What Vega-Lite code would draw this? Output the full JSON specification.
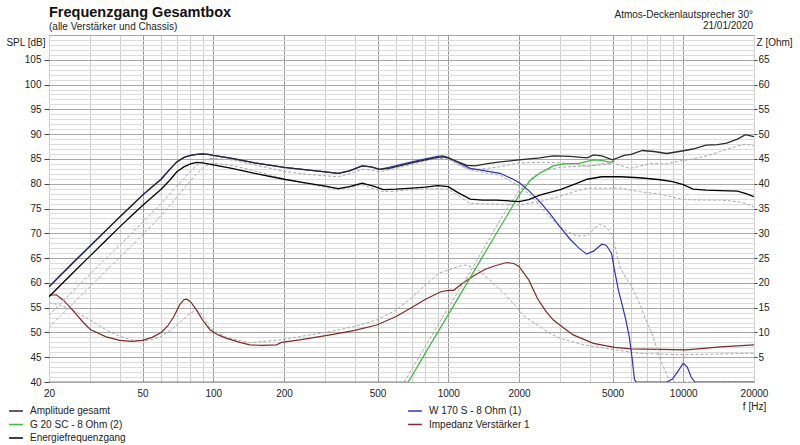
{
  "$schema": "https://vega.github.io/schema/vega-lite/v6.json",
  "width": 705,
  "height": 347,
  "autosize": {"type": "none"},
  "padding": {"left": 49, "top": 35, "right": 46, "bottom": 63},
  "background": "white",
  "config": {
    "font": "Liberation Sans",
    "view": {"stroke": "#707070", "strokeWidth": 1},
    "axis": {"labelFont": "Liberation Sans", "labelFontSize": 10, "labelColor": "#222222", "titleFont": "Liberation Sans", "titleFontSize": 10, "titleFontWeight": "normal", "titleColor": "#222222", "domain": false},
    "legend": {"labelFont": "Liberation Sans", "labelFontSize": 10, "labelColor": "#222222", "symbolType": "stroke", "symbolSize": 190, "symbolStrokeWidth": 1.5, "rowPadding": 0.5, "labelOffset": 6, "padding": 0}
  },
  "title": {"text": "Frequenzgang Gesamtbox", "subtitle": "(alle Verstärker und Chassis)", "anchor": "start", "frame": "group", "font": "Liberation Sans", "fontSize": 14.5, "fontWeight": "bold", "color": "#111111", "subtitleFont": "Liberation Sans", "subtitleFontSize": 10, "subtitleColor": "#222222", "offset": -23, "subtitlePadding": 2},
  "datasets": {
    "spl": [
      {"s":"Energiefrequenzgang","f":20,"v":57.2},{"s":"Energiefrequenzgang","f":25,"v":61.8},{"s":"Energiefrequenzgang","f":30,"v":65.5},{"s":"Energiefrequenzgang","f":35,"v":68.6},{"s":"Energiefrequenzgang","f":40,"v":71.3},{"s":"Energiefrequenzgang","f":45,"v":73.6},{"s":"Energiefrequenzgang","f":50,"v":75.6},{"s":"Energiefrequenzgang","f":55,"v":77.3},{"s":"Energiefrequenzgang","f":60,"v":78.9},{"s":"Energiefrequenzgang","f":65,"v":80.6},{"s":"Energiefrequenzgang","f":70,"v":82.4},{"s":"Energiefrequenzgang","f":75,"v":83.4},{"s":"Energiefrequenzgang","f":80,"v":84},{"s":"Energiefrequenzgang","f":85,"v":84.3},{"s":"Energiefrequenzgang","f":90,"v":84.2},{"s":"Energiefrequenzgang","f":100,"v":83.8},{"s":"Energiefrequenzgang","f":120,"v":83.1},{"s":"Energiefrequenzgang","f":150,"v":82.1},{"s":"Energiefrequenzgang","f":200,"v":80.9},{"s":"Energiefrequenzgang","f":250,"v":80.1},{"s":"Energiefrequenzgang","f":300,"v":79.5},{"s":"Energiefrequenzgang","f":340,"v":79},{"s":"Energiefrequenzgang","f":380,"v":79.4},{"s":"Energiefrequenzgang","f":430,"v":80.1},{"s":"Energiefrequenzgang","f":480,"v":79.5},{"s":"Energiefrequenzgang","f":530,"v":78.8},{"s":"Energiefrequenzgang","f":600,"v":78.9},{"s":"Energiefrequenzgang","f":700,"v":79.1},{"s":"Energiefrequenzgang","f":800,"v":79.3},{"s":"Energiefrequenzgang","f":900,"v":79.6},{"s":"Energiefrequenzgang","f":1000,"v":79.4},{"s":"Energiefrequenzgang","f":1100,"v":78.2},{"s":"Energiefrequenzgang","f":1240,"v":76.9},{"s":"Energiefrequenzgang","f":1400,"v":76.7},{"s":"Energiefrequenzgang","f":1600,"v":76.7},{"s":"Energiefrequenzgang","f":2000,"v":76.4},{"s":"Energiefrequenzgang","f":2200,"v":76.8},{"s":"Energiefrequenzgang","f":2450,"v":77.7},{"s":"Energiefrequenzgang","f":3000,"v":78.8},{"s":"Energiefrequenzgang","f":3500,"v":80},{"s":"Energiefrequenzgang","f":3900,"v":80.9},{"s":"Energiefrequenzgang","f":4500,"v":81.4},{"s":"Energiefrequenzgang","f":5400,"v":81.4},{"s":"Energiefrequenzgang","f":6500,"v":81.2},{"s":"Energiefrequenzgang","f":8000,"v":80.8},{"s":"Energiefrequenzgang","f":9000,"v":80.4},{"s":"Energiefrequenzgang","f":10000,"v":79.8},{"s":"Energiefrequenzgang","f":11000,"v":78.9},{"s":"Energiefrequenzgang","f":12500,"v":78.7},{"s":"Energiefrequenzgang","f":14400,"v":78.6},{"s":"Energiefrequenzgang","f":17000,"v":78.5},{"s":"Energiefrequenzgang","f":18500,"v":78},{"s":"Energiefrequenzgang","f":20000,"v":77.4},
      {"s":"Amplitude gesamt","f":20,"v":59.2},{"s":"Amplitude gesamt","f":25,"v":63.8},{"s":"Amplitude gesamt","f":30,"v":67.5},{"s":"Amplitude gesamt","f":35,"v":70.6},{"s":"Amplitude gesamt","f":40,"v":73.3},{"s":"Amplitude gesamt","f":45,"v":75.6},{"s":"Amplitude gesamt","f":50,"v":77.7},{"s":"Amplitude gesamt","f":55,"v":79.4},{"s":"Amplitude gesamt","f":60,"v":80.9},{"s":"Amplitude gesamt","f":65,"v":82.8},{"s":"Amplitude gesamt","f":70,"v":84.4},{"s":"Amplitude gesamt","f":75,"v":85.3},{"s":"Amplitude gesamt","f":80,"v":85.7},{"s":"Amplitude gesamt","f":85,"v":85.9},{"s":"Amplitude gesamt","f":90,"v":86},{"s":"Amplitude gesamt","f":95,"v":85.9},{"s":"Amplitude gesamt","f":100,"v":85.7},{"s":"Amplitude gesamt","f":120,"v":85.1},{"s":"Amplitude gesamt","f":150,"v":84.2},{"s":"Amplitude gesamt","f":200,"v":83.3},{"s":"Amplitude gesamt","f":250,"v":82.8},{"s":"Amplitude gesamt","f":300,"v":82.4},{"s":"Amplitude gesamt","f":340,"v":82.1},{"s":"Amplitude gesamt","f":380,"v":82.6},{"s":"Amplitude gesamt","f":430,"v":83.6},{"s":"Amplitude gesamt","f":470,"v":83.4},{"s":"Amplitude gesamt","f":510,"v":82.9},{"s":"Amplitude gesamt","f":560,"v":83.1},{"s":"Amplitude gesamt","f":620,"v":83.6},{"s":"Amplitude gesamt","f":700,"v":84.2},{"s":"Amplitude gesamt","f":800,"v":84.8},{"s":"Amplitude gesamt","f":900,"v":85.3},{"s":"Amplitude gesamt","f":950,"v":85.4},{"s":"Amplitude gesamt","f":1000,"v":85.2},{"s":"Amplitude gesamt","f":1100,"v":84.4},{"s":"Amplitude gesamt","f":1200,"v":83.7},{"s":"Amplitude gesamt","f":1300,"v":83.6},{"s":"Amplitude gesamt","f":1450,"v":84},{"s":"Amplitude gesamt","f":1600,"v":84.3},{"s":"Amplitude gesamt","f":2000,"v":84.8},{"s":"Amplitude gesamt","f":2450,"v":85.2},{"s":"Amplitude gesamt","f":2800,"v":85.6},{"s":"Amplitude gesamt","f":3300,"v":85.5},{"s":"Amplitude gesamt","f":3900,"v":85.2},{"s":"Amplitude gesamt","f":4150,"v":85.8},{"s":"Amplitude gesamt","f":4500,"v":85.6},{"s":"Amplitude gesamt","f":5000,"v":84.8},{"s":"Amplitude gesamt","f":5600,"v":85.7},{"s":"Amplitude gesamt","f":6000,"v":85.9},{"s":"Amplitude gesamt","f":6700,"v":86.7},{"s":"Amplitude gesamt","f":7500,"v":86.5},{"s":"Amplitude gesamt","f":8500,"v":86.1},{"s":"Amplitude gesamt","f":9600,"v":86.5},{"s":"Amplitude gesamt","f":11000,"v":87},{"s":"Amplitude gesamt","f":12500,"v":87.8},{"s":"Amplitude gesamt","f":14000,"v":87.9},{"s":"Amplitude gesamt","f":15300,"v":88.2},{"s":"Amplitude gesamt","f":17000,"v":89},{"s":"Amplitude gesamt","f":18400,"v":89.9},{"s":"Amplitude gesamt","f":20000,"v":89.5},
      {"s":"W 170 S - 8 Ohm (1)","f":20,"v":59.2},{"s":"W 170 S - 8 Ohm (1)","f":25,"v":63.8},{"s":"W 170 S - 8 Ohm (1)","f":30,"v":67.5},{"s":"W 170 S - 8 Ohm (1)","f":35,"v":70.6},{"s":"W 170 S - 8 Ohm (1)","f":40,"v":73.3},{"s":"W 170 S - 8 Ohm (1)","f":45,"v":75.6},{"s":"W 170 S - 8 Ohm (1)","f":50,"v":77.7},{"s":"W 170 S - 8 Ohm (1)","f":55,"v":79.4},{"s":"W 170 S - 8 Ohm (1)","f":60,"v":80.9},{"s":"W 170 S - 8 Ohm (1)","f":65,"v":82.8},{"s":"W 170 S - 8 Ohm (1)","f":70,"v":84.4},{"s":"W 170 S - 8 Ohm (1)","f":75,"v":85.3},{"s":"W 170 S - 8 Ohm (1)","f":80,"v":85.7},{"s":"W 170 S - 8 Ohm (1)","f":85,"v":85.9},{"s":"W 170 S - 8 Ohm (1)","f":90,"v":86},{"s":"W 170 S - 8 Ohm (1)","f":95,"v":85.9},{"s":"W 170 S - 8 Ohm (1)","f":100,"v":85.7},{"s":"W 170 S - 8 Ohm (1)","f":120,"v":85.1},{"s":"W 170 S - 8 Ohm (1)","f":150,"v":84.2},{"s":"W 170 S - 8 Ohm (1)","f":200,"v":83.3},{"s":"W 170 S - 8 Ohm (1)","f":250,"v":82.8},{"s":"W 170 S - 8 Ohm (1)","f":300,"v":82.4},{"s":"W 170 S - 8 Ohm (1)","f":340,"v":82.1},{"s":"W 170 S - 8 Ohm (1)","f":380,"v":82.6},{"s":"W 170 S - 8 Ohm (1)","f":430,"v":83.6},{"s":"W 170 S - 8 Ohm (1)","f":470,"v":83.4},{"s":"W 170 S - 8 Ohm (1)","f":510,"v":82.9},{"s":"W 170 S - 8 Ohm (1)","f":560,"v":83.3},{"s":"W 170 S - 8 Ohm (1)","f":620,"v":83.8},{"s":"W 170 S - 8 Ohm (1)","f":700,"v":84.4},{"s":"W 170 S - 8 Ohm (1)","f":800,"v":85},{"s":"W 170 S - 8 Ohm (1)","f":900,"v":85.5},{"s":"W 170 S - 8 Ohm (1)","f":950,"v":85.6},{"s":"W 170 S - 8 Ohm (1)","f":1000,"v":85.3},{"s":"W 170 S - 8 Ohm (1)","f":1100,"v":84.3},{"s":"W 170 S - 8 Ohm (1)","f":1240,"v":83.1},{"s":"W 170 S - 8 Ohm (1)","f":1400,"v":82.7},{"s":"W 170 S - 8 Ohm (1)","f":1660,"v":82.1},{"s":"W 170 S - 8 Ohm (1)","f":1890,"v":80.9},{"s":"W 170 S - 8 Ohm (1)","f":2020,"v":80.1},{"s":"W 170 S - 8 Ohm (1)","f":2200,"v":78.6},{"s":"W 170 S - 8 Ohm (1)","f":2450,"v":76.4},{"s":"W 170 S - 8 Ohm (1)","f":2700,"v":74},{"s":"W 170 S - 8 Ohm (1)","f":3000,"v":71.2},{"s":"W 170 S - 8 Ohm (1)","f":3300,"v":68.8},{"s":"W 170 S - 8 Ohm (1)","f":3600,"v":67},{"s":"W 170 S - 8 Ohm (1)","f":3880,"v":65.8},{"s":"W 170 S - 8 Ohm (1)","f":4150,"v":66.4},{"s":"W 170 S - 8 Ohm (1)","f":4500,"v":67.8},{"s":"W 170 S - 8 Ohm (1)","f":4700,"v":67.6},{"s":"W 170 S - 8 Ohm (1)","f":4950,"v":66},{"s":"W 170 S - 8 Ohm (1)","f":5100,"v":62.5},{"s":"W 170 S - 8 Ohm (1)","f":5300,"v":58.5},{"s":"W 170 S - 8 Ohm (1)","f":5500,"v":55.5},{"s":"W 170 S - 8 Ohm (1)","f":5700,"v":52.5},{"s":"W 170 S - 8 Ohm (1)","f":5900,"v":49},{"s":"W 170 S - 8 Ohm (1)","f":6050,"v":45},{"s":"W 170 S - 8 Ohm (1)","f":6200,"v":40.5},{"s":"W 170 S - 8 Ohm (1)","f":6300,"v":40},{"s":"W 170 S - 8 Ohm (1)","f":8500,"v":40},{"s":"W 170 S - 8 Ohm (1)","f":9000,"v":40.6},{"s":"W 170 S - 8 Ohm (1)","f":9500,"v":42.2},{"s":"W 170 S - 8 Ohm (1)","f":10000,"v":43.8},{"s":"W 170 S - 8 Ohm (1)","f":10400,"v":43},{"s":"W 170 S - 8 Ohm (1)","f":10800,"v":41},{"s":"W 170 S - 8 Ohm (1)","f":11200,"v":40},{"s":"W 170 S - 8 Ohm (1)","f":20000,"v":40},
      {"s":"G 20 SC - 8 Ohm (2)","f":20,"v":40},{"s":"G 20 SC - 8 Ohm (2)","f":676,"v":40},{"s":"G 20 SC - 8 Ohm (2)","f":750,"v":43.6},{"s":"G 20 SC - 8 Ohm (2)","f":850,"v":48},{"s":"G 20 SC - 8 Ohm (2)","f":1000,"v":53.6},{"s":"G 20 SC - 8 Ohm (2)","f":1200,"v":59.9},{"s":"G 20 SC - 8 Ohm (2)","f":1400,"v":65.3},{"s":"G 20 SC - 8 Ohm (2)","f":1600,"v":69.9},{"s":"G 20 SC - 8 Ohm (2)","f":1800,"v":74},{"s":"G 20 SC - 8 Ohm (2)","f":2020,"v":78},{"s":"G 20 SC - 8 Ohm (2)","f":2250,"v":80.8},{"s":"G 20 SC - 8 Ohm (2)","f":2450,"v":82.1},{"s":"G 20 SC - 8 Ohm (2)","f":2800,"v":83.6},{"s":"G 20 SC - 8 Ohm (2)","f":3100,"v":84},{"s":"G 20 SC - 8 Ohm (2)","f":3600,"v":84.1},{"s":"G 20 SC - 8 Ohm (2)","f":4150,"v":84.8},{"s":"G 20 SC - 8 Ohm (2)","f":4500,"v":84.7},{"s":"G 20 SC - 8 Ohm (2)","f":4900,"v":84.3},{"s":"G 20 SC - 8 Ohm (2)","f":5100,"v":84.6}
    ],
    "ref": [
      {"r":"RA","f":20,"v":53.5},{"r":"RA","f":25,"v":58.1},{"r":"RA","f":30,"v":61.8},{"r":"RA","f":35,"v":65},{"r":"RA","f":40,"v":67.6},{"r":"RA","f":45,"v":70},{"r":"RA","f":50,"v":72.2},{"r":"RA","f":55,"v":74.2},{"r":"RA","f":60,"v":76},{"r":"RA","f":65,"v":77.8},{"r":"RA","f":70,"v":79.5},{"r":"RA","f":75,"v":81},{"r":"RA","f":80,"v":82.5},{"r":"RA","f":85,"v":83.7},{"r":"RA","f":90,"v":84.5},{"r":"RA","f":95,"v":85},{"r":"RA","f":100,"v":85.1},{"r":"RA","f":120,"v":84.8},{"r":"RA","f":150,"v":83.8},{"r":"RA","f":200,"v":82.5},{"r":"RA","f":250,"v":81.9},{"r":"RA","f":300,"v":81.6},{"r":"RA","f":340,"v":81.4},{"r":"RA","f":380,"v":82},{"r":"RA","f":430,"v":82.9},{"r":"RA","f":470,"v":82.8},{"r":"RA","f":510,"v":82.4},{"r":"RA","f":600,"v":83.1},{"r":"RA","f":700,"v":83.9},{"r":"RA","f":800,"v":84.6},{"r":"RA","f":900,"v":85.1},{"r":"RA","f":1000,"v":85},{"r":"RA","f":1100,"v":84},{"r":"RA","f":1240,"v":82.8},{"r":"RA","f":1400,"v":83},{"r":"RA","f":1600,"v":83.3},{"r":"RA","f":2000,"v":84.2},{"r":"RA","f":2450,"v":84.3},{"r":"RA","f":2800,"v":84.3},{"r":"RA","f":3400,"v":84},{"r":"RA","f":3900,"v":83.5},{"r":"RA","f":4500,"v":84},{"r":"RA","f":5000,"v":84.2},{"r":"RA","f":5950,"v":83.1},{"r":"RA","f":6500,"v":83.5},{"r":"RA","f":7300,"v":84.1},{"r":"RA","f":8500,"v":84},{"r":"RA","f":9500,"v":84.5},{"r":"RA","f":11000,"v":85},{"r":"RA","f":12500,"v":85.6},{"r":"RA","f":14400,"v":86.5},{"r":"RA","f":17000,"v":87.6},{"r":"RA","f":18500,"v":88},{"r":"RA","f":20000,"v":87.6},
      {"r":"RE","f":20,"v":51},{"r":"RE","f":25,"v":55.6},{"r":"RE","f":30,"v":59.3},{"r":"RE","f":35,"v":62.5},{"r":"RE","f":40,"v":65.1},{"r":"RE","f":45,"v":67.5},{"r":"RE","f":50,"v":69.7},{"r":"RE","f":55,"v":71.7},{"r":"RE","f":60,"v":73.6},{"r":"RE","f":65,"v":75.5},{"r":"RE","f":70,"v":77.3},{"r":"RE","f":75,"v":79},{"r":"RE","f":80,"v":80.6},{"r":"RE","f":85,"v":82},{"r":"RE","f":90,"v":83.1},{"r":"RE","f":95,"v":83.8},{"r":"RE","f":100,"v":84.1},{"r":"RE","f":120,"v":83.7},{"r":"RE","f":150,"v":82.6},{"r":"RE","f":200,"v":81},{"r":"RE","f":250,"v":80},{"r":"RE","f":300,"v":79.3},{"r":"RE","f":340,"v":78.8},{"r":"RE","f":380,"v":79.2},{"r":"RE","f":430,"v":79.8},{"r":"RE","f":480,"v":79},{"r":"RE","f":530,"v":78.4},{"r":"RE","f":600,"v":78.5},{"r":"RE","f":700,"v":78.8},{"r":"RE","f":850,"v":79},{"r":"RE","f":1000,"v":78.9},{"r":"RE","f":1100,"v":77.6},{"r":"RE","f":1240,"v":76},{"r":"RE","f":1600,"v":75.9},{"r":"RE","f":2000,"v":75.7},{"r":"RE","f":2450,"v":76.4},{"r":"RE","f":3000,"v":77.5},{"r":"RE","f":3500,"v":78.5},{"r":"RE","f":3900,"v":79.1},{"r":"RE","f":5400,"v":79.1},{"r":"RE","f":6500,"v":78.4},{"r":"RE","f":8000,"v":77.9},{"r":"RE","f":10000,"v":76.8},{"r":"RE","f":12000,"v":76.7},{"r":"RE","f":14400,"v":76.7},{"r":"RE","f":17000,"v":76.4},{"r":"RE","f":18500,"v":76},{"r":"RE","f":20000,"v":75.3},
      {"r":"RT","f":650,"v":40},{"r":"RT","f":1000,"v":55},{"r":"RT","f":1250,"v":62.5},{"r":"RT","f":1500,"v":69},{"r":"RT","f":1750,"v":74.5},{"r":"RT","f":2000,"v":78.5},{"r":"RT","f":2300,"v":81.5},{"r":"RT","f":2600,"v":82.8},{"r":"RT","f":3000,"v":83.3},{"r":"RT","f":3500,"v":83.5},{"r":"RT","f":4000,"v":83.6},{"r":"RT","f":5000,"v":84},
      {"r":"RW","f":1000,"v":85},{"r":"RW","f":1100,"v":83.8},{"r":"RW","f":1240,"v":82.8},{"r":"RW","f":1400,"v":82.3},{"r":"RW","f":1660,"v":81.7},{"r":"RW","f":2000,"v":79.5},{"r":"RW","f":2200,"v":78},{"r":"RW","f":2450,"v":75.5},{"r":"RW","f":2800,"v":72.5},{"r":"RW","f":3100,"v":70.8},{"r":"RW","f":3500,"v":69.5},{"r":"RW","f":3900,"v":69.5},{"r":"RW","f":4200,"v":71},{"r":"RW","f":4400,"v":71.8},{"r":"RW","f":4700,"v":71.3},{"r":"RW","f":5000,"v":69.5},{"r":"RW","f":5200,"v":66},{"r":"RW","f":5400,"v":63},{"r":"RW","f":5700,"v":61},{"r":"RW","f":6000,"v":59.5},{"r":"RW","f":6500,"v":56},{"r":"RW","f":7000,"v":52},{"r":"RW","f":7400,"v":49.5},{"r":"RW","f":8000,"v":44.5},{"r":"RW","f":8500,"v":41.5},{"r":"RW","f":8800,"v":40},{"r":"RW","f":20000,"v":40}
    ],
    "imp": [
      {"s":"Impedanz Verstärker 1","f":20,"v":17.5},{"s":"Impedanz Verstärker 1","f":21.5,"v":17.6},{"s":"Impedanz Verstärker 1","f":23,"v":16.5},{"s":"Impedanz Verstärker 1","f":25,"v":14.7},{"s":"Impedanz Verstärker 1","f":28,"v":12},{"s":"Impedanz Verstärker 1","f":30,"v":10.6},{"s":"Impedanz Verstärker 1","f":35,"v":9.1},{"s":"Impedanz Verstärker 1","f":40,"v":8.4},{"s":"Impedanz Verstärker 1","f":45,"v":8.2},{"s":"Impedanz Verstärker 1","f":50,"v":8.4},{"s":"Impedanz Verstärker 1","f":55,"v":9},{"s":"Impedanz Verstärker 1","f":60,"v":10},{"s":"Impedanz Verstärker 1","f":64,"v":11.3},{"s":"Impedanz Verstärker 1","f":68,"v":13.2},{"s":"Impedanz Verstärker 1","f":72,"v":15.6},{"s":"Impedanz Verstärker 1","f":75,"v":16.6},{"s":"Impedanz Verstärker 1","f":77,"v":16.7},{"s":"Impedanz Verstärker 1","f":80,"v":16.2},{"s":"Impedanz Verstärker 1","f":85,"v":14.5},{"s":"Impedanz Verstärker 1","f":90,"v":12.5},{"s":"Impedanz Verstärker 1","f":97,"v":10.5},{"s":"Impedanz Verstärker 1","f":105,"v":9.5},{"s":"Impedanz Verstärker 1","f":114,"v":8.8},{"s":"Impedanz Verstärker 1","f":130,"v":8},{"s":"Impedanz Verstärker 1","f":143,"v":7.5},{"s":"Impedanz Verstärker 1","f":160,"v":7.4},{"s":"Impedanz Verstärker 1","f":186,"v":7.5},{"s":"Impedanz Verstärker 1","f":195,"v":8},{"s":"Impedanz Verstärker 1","f":233,"v":8.5},{"s":"Impedanz Verstärker 1","f":315,"v":9.5},{"s":"Impedanz Verstärker 1","f":400,"v":10.4},{"s":"Impedanz Verstärker 1","f":496,"v":11.5},{"s":"Impedanz Verstärker 1","f":600,"v":13.2},{"s":"Impedanz Verstärker 1","f":708,"v":15.2},{"s":"Impedanz Verstärker 1","f":800,"v":16.7},{"s":"Impedanz Verstärker 1","f":930,"v":18.2},{"s":"Impedanz Verstärker 1","f":1000,"v":18.5},{"s":"Impedanz Verstärker 1","f":1055,"v":18.5},{"s":"Impedanz Verstärker 1","f":1150,"v":19.9},{"s":"Impedanz Verstärker 1","f":1290,"v":21.5},{"s":"Impedanz Verstärker 1","f":1430,"v":22.7},{"s":"Impedanz Verstärker 1","f":1570,"v":23.4},{"s":"Impedanz Verstärker 1","f":1770,"v":24.1},{"s":"Impedanz Verstärker 1","f":1900,"v":23.9},{"s":"Impedanz Verstärker 1","f":2000,"v":23.3},{"s":"Impedanz Verstärker 1","f":2200,"v":20.6},{"s":"Impedanz Verstärker 1","f":2400,"v":16.8},{"s":"Impedanz Verstärker 1","f":2600,"v":14.3},{"s":"Impedanz Verstärker 1","f":2800,"v":12.5},{"s":"Impedanz Verstärker 1","f":3100,"v":10.9},{"s":"Impedanz Verstärker 1","f":3400,"v":9.5},{"s":"Impedanz Verstärker 1","f":4150,"v":7.8},{"s":"Impedanz Verstärker 1","f":5100,"v":7},{"s":"Impedanz Verstärker 1","f":6000,"v":6.7},{"s":"Impedanz Verstärker 1","f":8000,"v":6.6},{"s":"Impedanz Verstärker 1","f":10300,"v":6.5},{"s":"Impedanz Verstärker 1","f":14400,"v":7.1},{"s":"Impedanz Verstärker 1","f":20000,"v":7.5}
    ],
    "refimp": [
      {"f":20,"v":16},{"f":22,"v":15.6},{"f":25,"v":14.6},{"f":30,"v":12.5},{"f":35,"v":10.5},{"f":40,"v":9.2},{"f":45,"v":8.5},{"f":50,"v":8.3},{"f":55,"v":8.5},{"f":60,"v":9.2},{"f":66,"v":10.5},{"f":72,"v":12},{"f":78,"v":13.5},{"f":84,"v":14.5},{"f":88,"v":14},{"f":97,"v":10.8},{"f":114,"v":9},{"f":143,"v":7.9},{"f":192,"v":8.5},{"f":300,"v":10},{"f":400,"v":11.2},{"f":496,"v":12.5},{"f":600,"v":14.5},{"f":700,"v":17},{"f":810,"v":19.9},{"f":920,"v":22},{"f":1000,"v":22.6},{"f":1120,"v":23.4},{"f":1200,"v":23.6},{"f":1350,"v":22.5},{"f":1500,"v":20.6},{"f":1700,"v":18.2},{"f":1890,"v":15.9},{"f":2100,"v":13.3},{"f":2390,"v":11.5},{"f":2700,"v":9.8},{"f":3000,"v":8.8},{"f":3770,"v":7.5},{"f":5100,"v":6.5},{"f":6500,"v":5.8},{"f":9600,"v":5.5},{"f":20000,"v":5.8}
    ],
    "notes": [
      {"t1": "Atmos-Deckenlautsprecher 30°", "t2": "21/01/2020"}
    ]
  },
  "layer": [
    {
      "encoding": {
        "x": {
          "field": "f", "type": "quantitative",
          "scale": {"type": "log", "domain": [20, 20000], "nice": false},
          "axis": {
            "values": [20,30,40,50,60,70,80,90,100,200,300,400,500,600,700,800,900,1000,2000,3000,4000,5000,6000,7000,8000,9000,10000,20000],
            "labelExpr": "indexof([20,50,100,200,500,1000,2000,5000,10000,20000], datum.value) >= 0 ? format(datum.value, 'd') : ''",
            "grid": true,
            "gridColor": {"condition": {"test": "indexof([50,100,200,500,1000,2000,5000,10000], datum.value) >= 0", "value": "#9a9a9a"}, "value": "#cfcfcf"},
            "gridWidth": 1,
            "ticks": false,
            "labelPadding": 6,
            "labelFlush": false,
            "labelOverlap": false,
            "title": "f [Hz]",
            "titleX": 705,
            "titleY": 24,
            "titleAlign": "center",
            "titleBaseline": "middle"
          }
        },
        "y": {
          "field": "v", "type": "quantitative",
          "scale": {"domain": [0, 70], "nice": false, "zero": false},
          "axis": {
            "orient": "right",
            "values": [0,5,10,15,20,25,30,35,40,45,50,55,60,65,70],
            "labelExpr": "datum.value > 0 && datum.value < 70 ? datum.label : ''",
            "grid": false,
            "tickSize": 3,
            "tickColor": "#444444",
            "tickOpacity": {"condition": {"test": "datum.value > 0 && datum.value < 70", "value": 1}, "value": 0},
            "labelPadding": 1,
            "labelFlush": false,
            "labelOverlap": false,
            "title": "Z [Ohm]",
            "titleAngle": 0,
            "titleAlign": "left",
            "titleBaseline": "middle",
            "titleX": 2,
            "titleY": 7
          }
        }
      },
      "layer": [
        {
          "data": {"name": "refimp"},
          "mark": {"type": "line", "stroke": "#a8a8a8", "strokeDash": [3, 2], "strokeWidth": 1, "clip": true}
        },
        {
          "data": {"name": "imp"},
          "mark": {"type": "line", "strokeWidth": 1.2, "clip": true},
          "encoding": {
            "color": {
              "field": "s", "type": "nominal",
              "scale": {"domain": ["W 170 S - 8 Ohm (1)", "Impedanz Verstärker 1"], "range": ["#3030b8", "#7d2b2b"]},
              "legend": {"title": null, "orient": "none", "legendX": 358, "legendY": 368, "direction": "vertical"}
            }
          }
        }
      ]
    },
    {
      "encoding": {
        "x": {
          "field": "f", "type": "quantitative",
          "scale": {"type": "log", "domain": [20, 20000], "nice": false},
          "axis": {
            "values": [20,30,40,50,60,70,80,90,100,200,300,400,500,600,700,800,900,1000,2000,3000,4000,5000,6000,7000,8000,9000,10000,20000],
            "labelExpr": "indexof([20,50,100,200,500,1000,2000,5000,10000,20000], datum.value) >= 0 ? format(datum.value, 'd') : ''",
            "grid": true,
            "gridColor": {"condition": {"test": "indexof([50,100,200,500,1000,2000,5000,10000], datum.value) >= 0", "value": "#9a9a9a"}, "value": "#cfcfcf"},
            "gridWidth": 1,
            "ticks": false,
            "labelPadding": 6,
            "labelFlush": false,
            "labelOverlap": false,
            "title": "f [Hz]",
            "titleX": 705,
            "titleY": 24,
            "titleAlign": "center",
            "titleBaseline": "middle"
          }
        },
        "y": {
          "field": "v", "type": "quantitative",
          "scale": {"domain": [40, 110], "nice": false, "zero": false},
          "axis": {
            "orient": "left",
            "values": [40,41,42,43,44,45,46,47,48,49,50,51,52,53,54,55,56,57,58,59,60,61,62,63,64,65,66,67,68,69,70,71,72,73,74,75,76,77,78,79,80,81,82,83,84,85,86,87,88,89,90,91,92,93,94,95,96,97,98,99,100,101,102,103,104,105,106,107,108,109,110],
            "labelExpr": "datum.value % 5 === 0 && datum.value < 110 ? datum.label : ''",
            "grid": true,
            "gridColor": {"condition": {"test": "datum.value % 5 === 0", "value": "#a8a8a8"}, "value": "#dcdcdc"},
            "tickSize": 5,
            "tickColor": "#444444",
            "tickOpacity": {"condition": {"test": "datum.value % 5 === 0 && datum.value < 110", "value": 1}, "value": 0},
            "labelPadding": 3,
            "labelFlush": false,
            "labelOverlap": false,
            "title": "SPL [dB]",
            "titleAngle": 0,
            "titleAlign": "right",
            "titleBaseline": "middle",
            "titleX": -4,
            "titleY": 7
          }
        }
      },
      "layer": [
        {
          "data": {"name": "ref"},
          "mark": {"type": "line", "stroke": "#a8a8a8", "strokeDash": [3, 2], "strokeWidth": 1, "clip": true},
          "encoding": {"detail": {"field": "r", "type": "nominal"}}
        },
        {
          "data": {"name": "spl"},
          "transform": [{"filter": {"field": "s", "equal": "G 20 SC - 8 Ohm (2)"}}],
          "mark": {"type": "line", "strokeWidth": 1.2, "clip": true},
          "encoding": {"stroke": {"field": "s", "type": "nominal"}}
        },
        {
          "data": {"name": "spl"},
          "transform": [{"filter": {"field": "s", "equal": "W 170 S - 8 Ohm (1)"}}],
          "mark": {"type": "line", "strokeWidth": 1.2, "clip": true},
          "encoding": {"color": {"field": "s", "type": "nominal"}}
        },
        {
          "data": {"name": "spl"},
          "transform": [{"filter": {"field": "s", "oneOf": ["Energiefrequenzgang", "Amplitude gesamt"]}}],
          "mark": {"type": "line", "strokeWidth": 1.3, "clip": true},
          "encoding": {
            "stroke": {
              "field": "s", "type": "nominal",
              "scale": {"domain": ["Amplitude gesamt", "G 20 SC - 8 Ohm (2)", "Energiefrequenzgang"], "range": ["#2a2a2a", "#3cb83c", "#000000"]},
              "legend": {"title": null, "orient": "none", "legendX": -41, "legendY": 368, "direction": "vertical"}
            }
          }
        }
      ]
    },
    {
      "data": {"name": "notes"},
      "mark": {"type": "text", "align": "right", "baseline": "alphabetic", "dx": -1, "fontSize": 10, "font": "Liberation Sans", "fill": "#222222", "dy": -17},
      "encoding": {
        "x": {"datum": 20000, "type": "quantitative"},
        "y": {"datum": 110, "type": "quantitative", "scale": {"domain": [40, 110], "nice": false, "zero": false}, "axis": null},
        "text": {"field": "t1", "type": "nominal"}
      }
    },
    {
      "data": {"name": "notes"},
      "mark": {"type": "text", "align": "right", "baseline": "alphabetic", "dx": -1, "fontSize": 10, "font": "Liberation Sans", "fill": "#222222", "dy": -6},
      "encoding": {
        "x": {"datum": 20000, "type": "quantitative"},
        "y": {"datum": 110, "type": "quantitative", "scale": {"domain": [40, 110], "nice": false, "zero": false}, "axis": null},
        "text": {"field": "t2", "type": "nominal"}
      }
    }
  ],
  "resolve": {"scale": {"y": "independent"}}
}
